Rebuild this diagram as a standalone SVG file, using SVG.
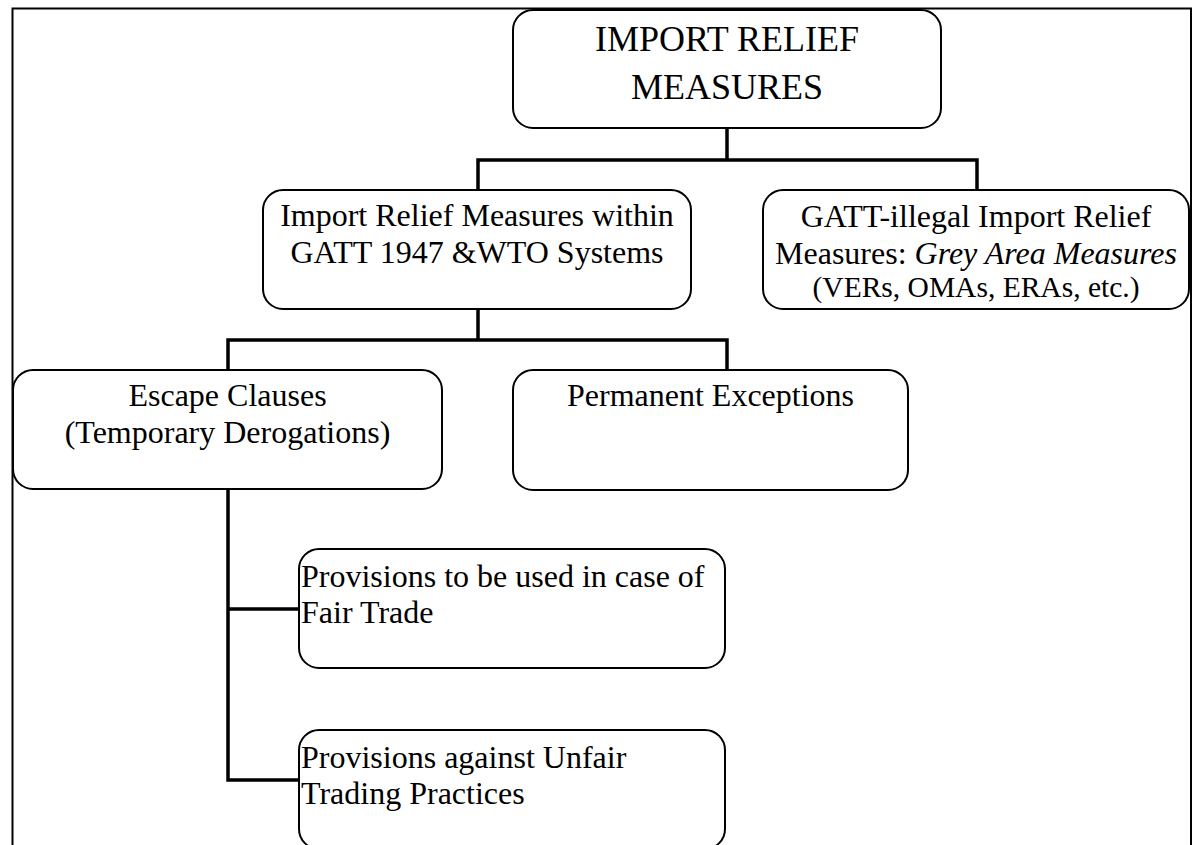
<svg xmlns="http://www.w3.org/2000/svg" width="1195" height="845" viewBox="0 0 1195 845">
<style>
.box{fill:#fff;stroke:#000;stroke-width:2}
.t{font-family:"Liberation Serif","Times New Roman",serif;fill:#000}
.c{fill:none;stroke:#000;stroke-width:3.5}
</style>
<rect width="1195" height="845" fill="#fff"/>
<path d="M12.5,850 V8.5 H1191 V850" fill="none" stroke="#000" stroke-width="2"/>
<g id="connectors">
<path class="c" d="M727,128 V160 M478,190 V160 H977 V190"/>
<path class="c" d="M478,309 V340 M228,370 V340 H727 V370"/>
<path class="c" d="M228,489 V780 H299 M228,609 H299"/>
</g>
<g id="n-top">
<rect class="box" x="513" y="10" width="428" height="118" rx="20"/>
<text class="t" font-size="36" text-anchor="middle" x="727" y="51">IMPORT RELIEF</text>
<text class="t" font-size="36" text-anchor="middle" x="727" y="99">MEASURES</text>
</g>
<g id="n-within">
<rect class="box" x="263" y="190" width="428" height="119" rx="20"/>
<text class="t" font-size="32" text-anchor="middle" x="477" y="226">Import Relief Measures within</text>
<text class="t" font-size="32" text-anchor="middle" x="477" y="263">GATT 1947 &amp;WTO Systems</text>
</g>
<g id="n-grey">
<rect class="box" x="763" y="190" width="426" height="119" rx="20"/>
<text class="t" font-size="32" text-anchor="middle" x="976" y="227">GATT-illegal Import Relief</text>
<text class="t" font-size="32" text-anchor="middle" x="976" y="264">Measures: <tspan font-style="italic">Grey Area Measures</tspan></text>
<text class="t" font-size="29.5" text-anchor="middle" x="976" y="297">(VERs, OMAs, ERAs, etc.)</text>
</g>
<g id="n-escape">
<rect class="box" x="13" y="370" width="429" height="119" rx="20"/>
<text class="t" font-size="32" text-anchor="middle" x="227.5" y="406">Escape Clauses</text>
<text class="t" font-size="32" text-anchor="middle" x="227.5" y="443">(Temporary Derogations)</text>
</g>
<g id="n-permanent">
<rect class="box" x="513" y="370" width="395" height="120" rx="20"/>
<text class="t" font-size="32" text-anchor="middle" x="710.5" y="406">Permanent Exceptions</text>
</g>
<g id="n-fair">
<rect class="box" x="299" y="549" width="426" height="119" rx="20"/>
<text class="t" font-size="32" x="301" y="587">Provisions to be used in case of</text>
<text class="t" font-size="32" x="301" y="623">Fair Trade</text>
</g>
<g id="n-unfair">
<rect class="box" x="299" y="730" width="426" height="119" rx="20"/>
<text class="t" font-size="32" x="301" y="768">Provisions against Unfair</text>
<text class="t" font-size="32" x="301" y="804">Trading Practices</text>
</g>
</svg>
